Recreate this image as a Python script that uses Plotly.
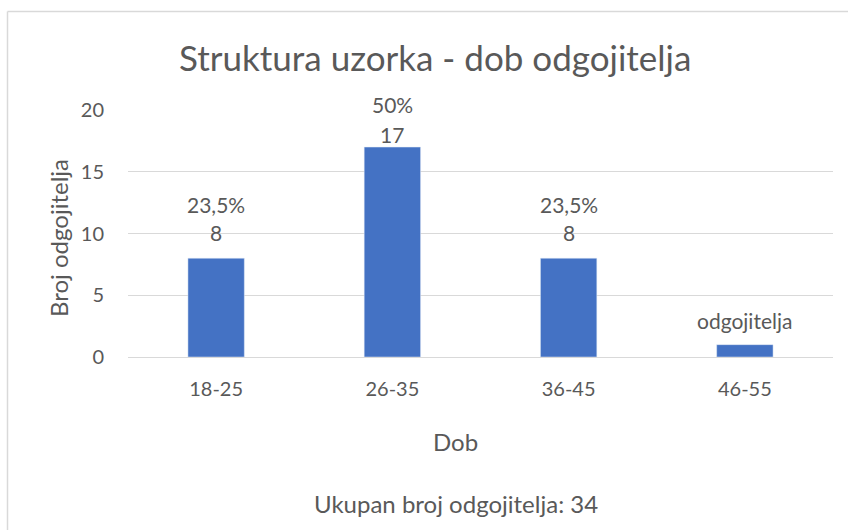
import plotly.graph_objects as go

categories = ["18-25", "26-35", "36-45", "46-55"]
counts = [8, 17, 8, 1]
pct_labels = ["23,5%", "50%", "23,5%", ""]
count_labels = ["8", "17", "8", "odgojitelja"]

# label offsets above bar tops (px) – styling, not data
count_shift = [26, 13, 26, 24]
pct_shift = [54, 43, 54, 0]

W, H = 848, 530
L, R, T, B = 128, 15, 110, 173
pw = W - L - R
ph = H - T - B

def px_x(x):
    return (x - L) / pw

def px_y(y):
    return (H - B - y) / ph

FONT = "Lato, Open Sans, sans-serif"
TXT = "#595959"
LBL = 21

fig = go.Figure(go.Bar(
    x=categories, y=counts, marker_color="#4472C4", width=0.32,
))

ann = []
for c, v, p, n, s1, s2 in zip(categories, counts, pct_labels, count_labels, count_shift, pct_shift):
    ann.append(dict(x=c, y=v, xref="x", yref="y", text=n, showarrow=False,
                    yanchor="middle", yshift=s1, font=dict(size=LBL, color=TXT, family=FONT)))
    if p:
        ann.append(dict(x=c, y=v, xref="x", yref="y", text=p, showarrow=False,
                        yanchor="middle", yshift=s2, font=dict(size=LBL, color=TXT, family=FONT)))

ann.append(dict(x=px_x(435), y=px_y(57), xref="paper", yref="paper",
                text="Struktura uzorka - dob odgojitelja", showarrow=False,
                xanchor="center", yanchor="middle", font=dict(size=35, color=TXT, family=FONT)))
ann.append(dict(x=px_x(455), y=px_y(441), xref="paper", yref="paper", text="Dob",
                showarrow=False, xanchor="center", yanchor="middle",
                font=dict(size=24, color=TXT, family=FONT)))
ann.append(dict(x=px_x(456), y=px_y(503), xref="paper", yref="paper",
                text="Ukupan broj odgojitelja: 34", showarrow=False,
                xanchor="center", yanchor="middle", font=dict(size=24, color=TXT, family=FONT)))
ann.append(dict(x=px_x(58), y=px_y(238), xref="paper", yref="paper",
                text="Broj odgojitelja", showarrow=False, textangle=-90,
                xanchor="center", yanchor="middle", font=dict(size=24, color=TXT, family=FONT)))

shapes = [
    dict(type="line", xref="paper", yref="paper", x0=px_x(7.5), x1=px_x(860), y0=px_y(11.5), y1=px_y(11.5),
         line=dict(color="#D9D9D9", width=1.5)),
    dict(type="line", xref="paper", yref="paper", x0=px_x(7.5), x1=px_x(7.5), y0=px_y(11.5), y1=px_y(540),
         line=dict(color="#D9D9D9", width=1.5)),
]

fig.update_layout(
    width=W, height=H,
    margin=dict(l=L, r=R, t=T, b=B, pad=0),
    paper_bgcolor="white", plot_bgcolor="white",
    showlegend=False,
    annotations=ann, shapes=shapes,
    font=dict(family=FONT, color=TXT, size=20),
    xaxis=dict(showgrid=False, showline=False, ticks="", tickfont=dict(size=20, color=TXT),
               ticklabelstandoff=18),
    yaxis=dict(range=[0, 20], tickvals=[0, 5, 10, 15, 20], showgrid=True, gridcolor="#D9D9D9",
               gridwidth=1.3, zeroline=True, zerolinecolor="#D9D9D9", zerolinewidth=1.3,
               showline=False, ticks="", tickfont=dict(size=20, color=TXT), ticklabelstandoff=23),
)

fig.write_html("out.html", config={"displayModeBar": False},
               post_script="document.body.style.margin='0';document.body.style.overflow='hidden';")
